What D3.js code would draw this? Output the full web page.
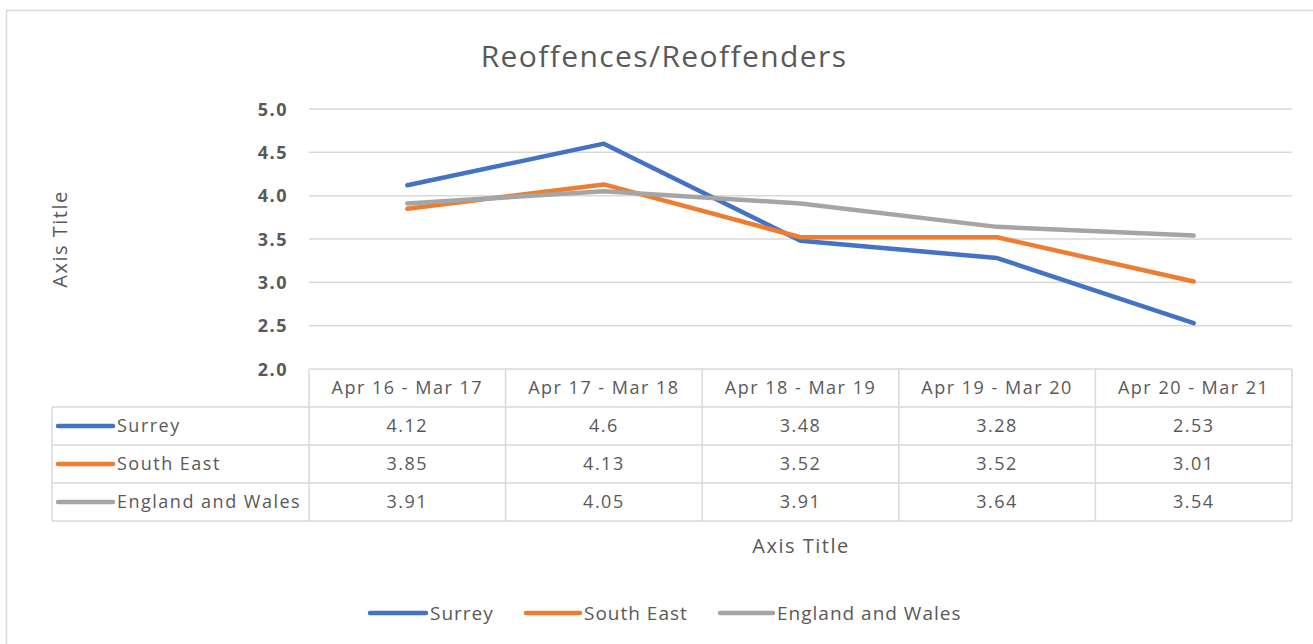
<!DOCTYPE html>
<html>
<head>
<meta charset="utf-8">
<script src="https://cdn.jsdelivr.net/npm/d3@7"></script>
<style>
  body { margin: 0; background: #fff; }
  text { font-family: "Open Sans", "Noto Sans", sans-serif; fill: #595959; }
</style>
</head>
<body>
<div id="chart"></div>
<script>
const categories = ["Apr 16 - Mar 17", "Apr 17 - Mar 18", "Apr 18 - Mar 19", "Apr 19 - Mar 20", "Apr 20 - Mar 21"];
const seriesNames = ["Surrey", "South East", "England and Wales"];
const surrey = [4.12, 4.6, 3.48, 3.28, 2.53];
const southEast = [3.85, 4.13, 3.52, 3.52, 3.01];
const englandWales = [3.91, 4.05, 3.91, 3.64, 3.54];
const yTicks = [2.0, 2.5, 3.0, 3.5, 4.0, 4.5, 5.0];
const colors = ["#4472C4", "#ED7D31", "#A5A5A5"];

const series = [surrey, southEast, englandWales].map((vals, i) => ({
    name: seriesNames[i], color: colors[i], values: vals
}));

const width = 1313, height = 644;
const plot = {left: 309, right: 1292, top: 109, bottom: 369};
const rowH = 38;
const tableLeft = 52;

const svg = d3.select("#chart").append("svg")
    .attr("width", width)
    .attr("height", height);

// chart area border
svg.append("rect")
    .attr("x", 6.5).attr("y", 10.5)
    .attr("width", 1320).attr("height", 660)
    .attr("fill", "none")
    .attr("stroke", "#d9d9d9")
    .attr("stroke-width", 1.5);

svg.append("text")
    .attr("x", 664).attr("y", 67)
    .attr("text-anchor", "middle")
    .style("font-size", "30px")
    .style("letter-spacing", "1.4px")
    .text("Reoffences/Reoffenders");

const x = d3.scaleBand().domain(categories).range([plot.left, plot.right]);
const y = d3.scaleLinear().domain([2, 5]).range([plot.bottom, plot.top]);

// gridlines
svg.append("g")
    .selectAll("line")
    .data(yTicks.slice(1))
    .join("line")
    .attr("x1", plot.left).attr("x2", plot.right)
    .attr("y1", d => y(d)).attr("y2", d => y(d))
    .attr("stroke", "#d9d9d9")
    .attr("stroke-width", 1.5);

// y axis
const yAxis = svg.append("g")
    .attr("transform", `translate(${plot.left - 21},0)`)
    .call(d3.axisLeft(y).tickValues(yTicks).tickFormat(d3.format(".1f")).tickSize(0).tickPadding(0));
yAxis.select(".domain").remove();
yAxis.selectAll("text")
    .style("font-size", "18px")
    .style("font-weight", "bold")
    .style("letter-spacing", "1.5px")
    .style("font-family", "'Open Sans', sans-serif")
    .style("fill", "#595959")
    .attr("dy", "0.35em");

svg.append("text")
    .attr("transform", `translate(67,${239}) rotate(-90)`)
    .attr("text-anchor", "middle")
    .style("font-size", "20px")
    .style("letter-spacing", "1.5px")
    .text("Axis Title");

// lines
const line = d3.line()
    .x((d, i) => x(categories[i]) + x.bandwidth() / 2)
    .y(d => y(d));

svg.append("g")
    .selectAll("path")
    .data(series)
    .join("path")
    .attr("d", d => line(d.values))
    .attr("fill", "none")
    .attr("stroke", d => d.color)
    .attr("stroke-width", 4.5)
    .attr("stroke-linecap", "round")
    .attr("stroke-linejoin", "round");

// data table
const table = svg.append("g").style("letter-spacing", "1.5px");
const gridColor = "#d9d9d9";
const tableBottom = plot.bottom + rowH * 4;

table.append("line")
    .attr("x1", plot.left).attr("x2", plot.right)
    .attr("y1", plot.bottom).attr("y2", plot.bottom)
    .attr("stroke", gridColor).attr("stroke-width", 1.5);
d3.range(1, 5).forEach(r => {
    table.append("line")
        .attr("x1", tableLeft).attr("x2", plot.right)
        .attr("y1", plot.bottom + rowH * r).attr("y2", plot.bottom + rowH * r)
        .attr("stroke", gridColor).attr("stroke-width", 1.5);
});
table.append("line")
    .attr("x1", tableLeft).attr("x2", tableLeft)
    .attr("y1", plot.bottom + rowH).attr("y2", tableBottom)
    .attr("stroke", gridColor).attr("stroke-width", 1.5);
table.selectAll(".vline")
    .data(categories.map(c => x(c)).concat([plot.right]))
    .join("line")
    .attr("class", "vline")
    .attr("x1", d => d).attr("x2", d => d)
    .attr("y1", plot.bottom).attr("y2", tableBottom)
    .attr("stroke", gridColor).attr("stroke-width", 1.5);

table.selectAll(".hdr")
    .data(categories)
    .join("text")
    .attr("class", "hdr")
    .attr("x", d => x(d) + x.bandwidth() / 2)
    .attr("y", plot.bottom + rowH / 2)
    .attr("dy", "0.35em")
    .attr("text-anchor", "middle")
    .style("font-size", "18px")
    .text(d => d);

series.forEach((s, r) => {
    const cy = plot.bottom + rowH * (r + 1) + rowH / 2;
    table.append("line")
        .attr("x1", tableLeft + 6).attr("x2", tableLeft + 61)
        .attr("y1", cy).attr("y2", cy)
        .attr("stroke", s.color).attr("stroke-width", 4.5)
        .attr("stroke-linecap", "round");
    table.append("text")
        .attr("x", tableLeft + 65).attr("y", cy)
        .attr("dy", "0.35em")
        .style("font-size", "18px")
        .text(s.name);
    table.selectAll(null)
        .data(s.values)
        .join("text")
        .attr("x", (d, i) => x(categories[i]) + x.bandwidth() / 2)
        .attr("y", cy)
        .attr("dy", "0.35em")
        .attr("text-anchor", "middle")
        .style("font-size", "18px")
        .text(d => d);
});

svg.append("text")
    .attr("x", 801).attr("y", 546)
    .attr("dy", "0.35em")
    .attr("text-anchor", "middle")
    .style("font-size", "20px")
    .style("letter-spacing", "1.5px")
    .text("Axis Title");

// legend
const legendItems = [
    {x: 370, w: 56},
    {x: 526, w: 54},
    {x: 720, w: 53}
];
const legend = svg.append("g");
series.forEach((s, i) => {
    const it = legendItems[i];
    legend.append("line")
        .attr("x1", it.x).attr("x2", it.x + it.w)
        .attr("y1", 613).attr("y2", 613)
        .attr("stroke", s.color).attr("stroke-width", 4.5)
        .attr("stroke-linecap", "round");
    legend.append("text")
        .attr("x", it.x + it.w + 4).attr("y", 613)
        .attr("dy", "0.35em")
        .style("font-size", "19px")
        .style("letter-spacing", "1px")
        .text(s.name);
});
</script>
</body>
</html>
